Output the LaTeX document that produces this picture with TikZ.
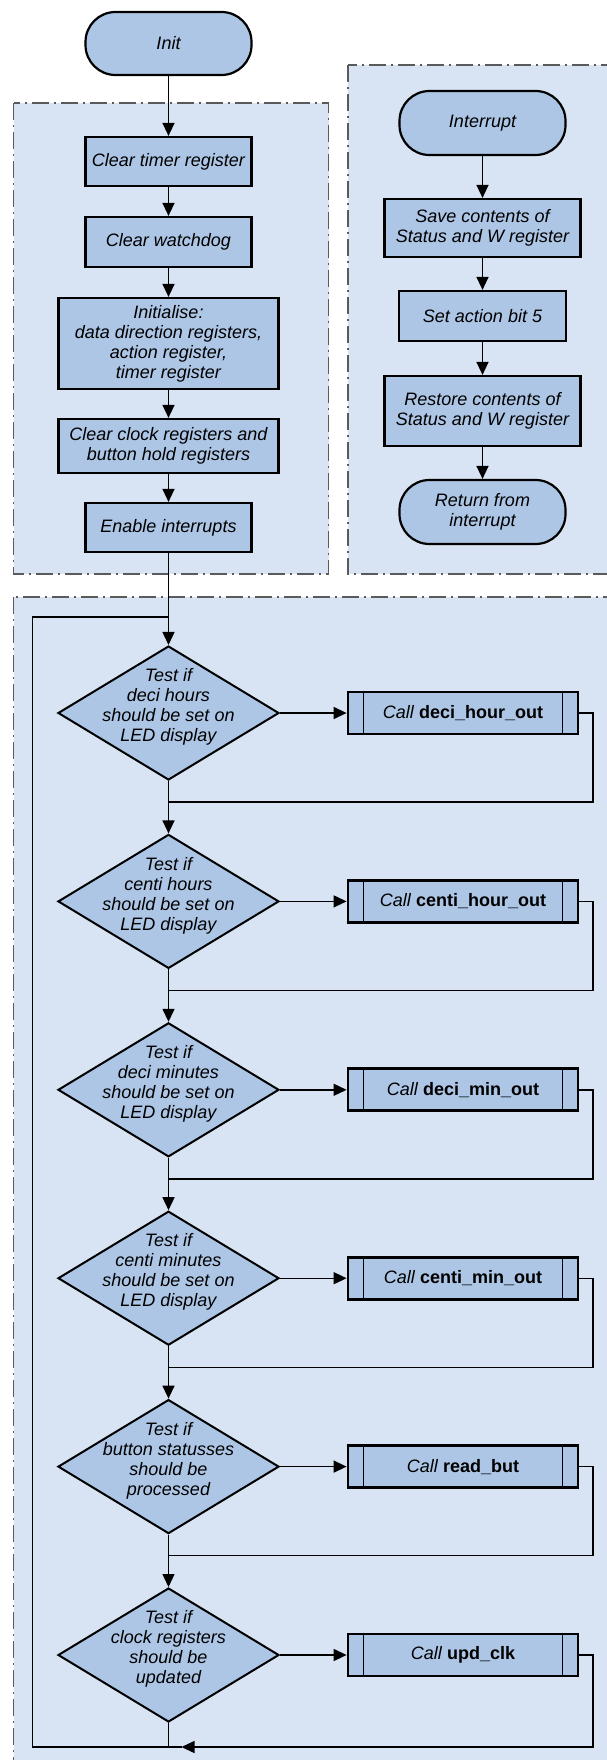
\documentclass[tikz,border=0pt]{standalone}
\usepackage{fontspec}
\setmainfont{Liberation Sans}
\usetikzlibrary{arrows.meta,shapes.geometric,calc}
\definecolor{boxblue}{HTML}{ADC6E5}
\definecolor{groupblue}{HTML}{D8E3F3}
\definecolor{groupline}{HTML}{5A5A5A}
\newcommand{\flowfont}{\fontsize{18}{20}\selectfont}

\begin{document}
\begin{tikzpicture}[x=1pt,y=-1pt,
  group/.style={fill=groupblue,draw=groupline,line width=1.1pt,dash pattern=on 17pt off 5pt on 2pt off 5pt},
  terminal/.style={draw,fill=boxblue,line width=2.2pt,rounded corners=30pt,minimum width=166pt,minimum height=63pt,inner sep=0pt,align=center,font=\flowfont\itshape},
  process/.style={draw,fill=boxblue,line width=2.2pt,minimum width=166pt,minimum height=49pt,inner sep=0pt,align=center,font=\flowfont\itshape},
  decision/.style={diamond,draw,fill=boxblue,line width=2pt,minimum width=221pt,minimum height=134pt,inner sep=0pt},
  dtext/.style={align=center,font=\flowfont\itshape,yshift=6pt},
  callbox/.style={draw,fill=boxblue,line width=2.8pt,minimum width=230pt,minimum height=42pt,inner sep=0pt,font=\flowfont},
  flow/.style={line width=1.4pt,-{Triangle[length=13pt,width=12pt]}},
  wire/.style={line width=1.4pt}]
  \useasboundingbox (0,0) rectangle (606,1760);

  % dashed groups
  \draw[group] (13.5,103) rectangle (328.5,574);
  \draw[group] (348,65) rectangle (612,574);
  \draw[group] (13.5,597) rectangle (612,1766);

  % start-up
  \node[terminal] (init) at (168.5,43.5) {Init};
  \node[process] (clrtimer) at (168.5,161.5) {Clear timer register};
  \node[process,minimum height=50pt] (clrwdt) at (168.5,242) {Clear watchdog};
  \node[process,minimum width=220pt,minimum height=91pt] (initreg) at (168.5,343.5)
    {Initialise:\\data direction registers,\\action register,\\timer register};
  \node[process,minimum width=220pt,minimum height=54pt] (clrclk) at (168.5,446)
    {Clear clock registers and\\button hold registers};
  \node[process] (enint) at (168.5,527.5) {Enable interrupts};
  \draw[flow] (init) -- (clrtimer);
  \draw[flow] (clrtimer) -- (clrwdt);
  \draw[flow] (clrwdt) -- (initreg);
  \draw[flow] (initreg) -- (clrclk);
  \draw[flow] (clrclk) -- (enint);

  % interrupt routine
  \node[terminal,minimum height=64pt] (intr) at (482.5,123) {Interrupt};
  \node[process,minimum width=196pt,minimum height=58pt] (savectx) at (482.5,228)
    {Save contents of\\Status and W register};
  \node[process,minimum width=167pt,minimum height=50pt] (setbit) at (482.5,316) {Set action bit 5};
  \node[process,minimum width=196pt,minimum height=70pt] (restctx) at (482.5,411)
    {Restore contents of\\Status and W register};
  \node[terminal,minimum height=64pt] (retint) at (482.5,512) {Return from\\interrupt};
  \draw[flow] (intr) -- (savectx);
  \draw[flow] (savectx) -- (setbit);
  \draw[flow] (setbit) -- (restctx);
  \draw[flow] (restctx) -- (retint);

  % main loop
  \foreach \i/\what/\fn in {
      1/{deci hours\\should be set on\\LED display}/deci\_hour\_out,
      2/{centi hours\\should be set on\\LED display}/centi\_hour\_out,
      3/{deci minutes\\should be set on\\LED display}/deci\_min\_out,
      4/{centi minutes\\should be set on\\LED display}/centi\_min\_out,
      5/{button statusses\\should be\\processed}/read\_but,
      6/{clock registers\\should be\\updated}/upd\_clk} {
    \node[decision,label={[dtext]center:{Test if\\\what}}] (test\i) at (168.5,{713+188.4*(\i-1)}) {};
    \node[callbox] (call\i) at (463,{713+188.4*(\i-1)}) {\textit{Call} \textbf{\fn}};
    \draw[line width=1.6pt] ([xshift=17pt]call\i.north west) -- ([xshift=17pt]call\i.south west);
    \draw[line width=1.6pt] ([xshift=-17pt]call\i.north east) -- ([xshift=-17pt]call\i.south east);
    \draw[flow] (test\i.east) -- (call\i.west);
  }
  \foreach \i in {1,...,5} {
    \pgfmathtruncatemacro{\j}{\i+1}
    \draw[wire] (call\i.east) -- ++(13.5,0) |- ([yshift=-21pt]test\i.south);
    \draw[flow] (test\i.south) -- (test\j.north);
  }

  \coordinate (botjoin) at (168.5,1747);
  \coordinate (loopleft) at (32.5,617);
  \coordinate (loopjoin) at (168.5,617);
  \draw[flow] (enint) -- (test1);
  \draw[wire] (test6.south) -- (botjoin);
  \draw[flow] (call6.east) -- ++(13.5,0) |- ([xshift=13pt]botjoin);
  \draw[wire] ([xshift=13pt]botjoin) -- (botjoin) -| (loopleft) -- (loopjoin);
\end{tikzpicture}
\end{document}
